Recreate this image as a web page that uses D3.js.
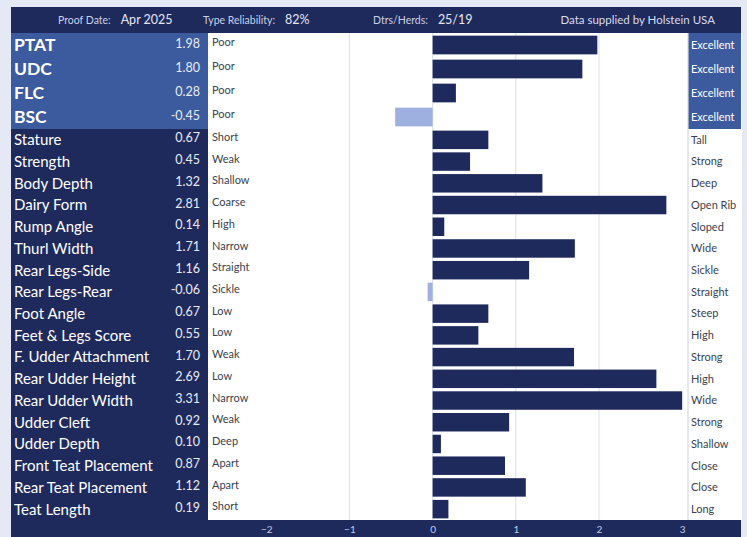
<!DOCTYPE html>
<html>
<head>
<meta charset="utf-8">
<script src="https://cdn.jsdelivr.net/npm/d3@7"></script>
<style>
  body { margin: 0; background: #e5e8f5; font-family: Lato, "Open Sans", sans-serif; }
  svg { display: block; }
</style>
</head>
<body>
<svg width="747" height="537"></svg>
<script>
// Index traits (top block) and linear type traits (bottom block)
const indexTraits = ['PTAT', 'UDC', 'FLC', 'BSC'];
const indexValues = [1.98, 1.80, 0.28, -0.45];
const indexLow = ['Poor', 'Poor', 'Poor', 'Poor'];
const indexHigh = ['Excellent', 'Excellent', 'Excellent', 'Excellent'];

const typeTraits = ['Stature', 'Strength', 'Body Depth', 'Dairy Form', 'Rump Angle', 'Thurl Width',
  'Rear Legs-Side', 'Rear Legs-Rear', 'Foot Angle', 'Feet & Legs Score', 'F. Udder Attachment',
  'Rear Udder Height', 'Rear Udder Width', 'Udder Cleft', 'Udder Depth', 'Front Teat Placement',
  'Rear Teat Placement', 'Teat Length'];
const typeValues = [0.67, 0.45, 1.32, 2.81, 0.14, 1.71, 1.16, -0.06, 0.67, 0.55, 1.70,
  2.69, 3.31, 0.92, 0.10, 0.87, 1.12, 0.19];
const typeLow = ['Short', 'Weak', 'Shallow', 'Coarse', 'High', 'Narrow', 'Straight', 'Sickle', 'Low',
  'Low', 'Weak', 'Low', 'Narrow', 'Weak', 'Deep', 'Apart', 'Apart', 'Short'];
const typeHigh = ['Tall', 'Strong', 'Deep', 'Open Rib', 'Sloped', 'Wide', 'Sickle', 'Straight', 'Steep',
  'High', 'Strong', 'High', 'Wide', 'Strong', 'Shallow', 'Close', 'Close', 'Long'];

const axisTicks = [-2, -1, 0, 1, 2, 3];
const gridTicks = [-1, 0, 1, 2];
const header = [
  { label: 'Proof Date:', value: 'Apr 2025', x: 58 },
  { label: 'Type Reliability:', value: '82%', x: 203 },
  { label: 'Dtrs/Herds:', value: '25/19', x: 373 }
];

const navy = '#1f2a5c';
const blue = '#3c5b9e';
const lightBar = '#9db0df';

const svg = d3.select('svg');
const panel = { left: 11, right: 741, top: 7, bottom: 537 };
const labelRight = 208;   // end of the name/value panel
const plotRight = 688;    // start of the right-hand label column

const x = d3.scaleLinear().domain([-2.7, 3.07]).range([labelRight, plotRight]);
const xMax = 3;

const yTop = d3.scaleBand().domain(indexTraits).range([33, 129]).paddingInner(0.22).paddingOuter(0.11);
const yBottom = d3.scaleBand().domain(typeTraits).range([129, 520]).paddingInner(0.15).paddingOuter(0.075);

const topRows = indexTraits.map((t, i) => ({ name: t, value: indexValues[i], low: indexLow[i], high: indexHigh[i], y: yTop, top: true }));
const bottomRows = typeTraits.map((t, i) => ({ name: t, value: typeValues[i], low: typeLow[i], high: typeHigh[i], y: yBottom, top: false }));
const rows = topRows.concat(bottomRows);

// Frame pieces
svg.append('rect').attr('x', panel.left).attr('y', panel.top)
  .attr('width', panel.right - panel.left).attr('height', panel.bottom - panel.top).attr('fill', navy);
svg.append('rect').attr('x', labelRight).attr('y', 33)
  .attr('width', panel.right - labelRight + 1).attr('height', 520 - 33).attr('fill', '#ffffff');
svg.append('rect').attr('x', panel.left).attr('y', 33)
  .attr('width', labelRight - panel.left).attr('height', 129 - 33).attr('fill', blue);
svg.append('rect').attr('x', plotRight).attr('y', 33)
  .attr('width', panel.right - plotRight).attr('height', 129 - 33).attr('fill', blue);

// Gridlines
svg.selectAll('.grid').data(gridTicks).enter().append('line')
  .attr('class', 'grid')
  .attr('x1', d => x(d)).attr('x2', d => x(d))
  .attr('y1', 33).attr('y2', 520)
  .attr('stroke', '#dfe3ee').attr('stroke-width', 1.2);
svg.append('line').attr('x1', plotRight).attr('x2', plotRight).attr('y1', 33).attr('y2', 520)
  .attr('stroke', '#d5d9e6').attr('stroke-width', 1.2);

// Bars
svg.selectAll('.bar').data(rows).enter().append('rect')
  .attr('class', 'bar')
  .attr('x', d => x(Math.min(0, d.value)))
  .attr('y', d => d.y(d.name))
  .attr('width', d => Math.abs(x(Math.min(d.value, xMax)) - x(0)))
  .attr('height', d => d.y.bandwidth())
  .attr('fill', d => d.value < 0 ? lightBar : navy);

// Trait names and values
const rowText = svg.selectAll('.row').data(rows).enter().append('g')
  .attr('class', 'row')
  .attr('transform', d => `translate(0, ${d.y(d.name) + d.y.bandwidth() / 2})`);

rowText.append('text')
  .attr('x', 14).attr('dy', '0.36em')
  .style('font-size', d => d.top ? '17.5px' : '15px')
  .style('font-weight', d => d.top ? 700 : 400)
  .attr('fill', '#ffffff')
  .text(d => d.name);

rowText.append('text')
  .attr('x', 200).attr('dy', '0.2em')
  .attr('text-anchor', 'end')
  .style('font-size', '12.5px')
  .attr('fill', '#e8ecf6')
  .text(d => d.value.toFixed(2));

rowText.append('text')
  .attr('x', 212).attr('dy', '0.1em')
  .style('font-size', '11px')
  .attr('fill', '#3a3f4f')
  .text(d => d.low);

rowText.append('text')
  .attr('x', 691).attr('dy', '0.35em')
  .style('font-size', '11px')
  .attr('fill', d => d.top ? '#ffffff' : '#3a3f4f')
  .text(d => d.high);

// Header
const head = svg.selectAll('.head').data(header).enter().append('g').attr('class', 'head');
head.append('text')
  .attr('x', d => d.x).attr('y', 24)
  .style('font-size', '10.5px').attr('fill', '#c9d0e8')
  .text(d => d.label);
head.append('text')
  .attr('x', function (d) { return d.x + this.parentNode.firstChild.getComputedTextLength() + 10; })
  .attr('y', 24)
  .style('font-size', '12.5px').attr('fill', '#e3e7f4')
  .text(d => d.value);
svg.append('text')
  .attr('x', 715).attr('y', 24).attr('text-anchor', 'end')
  .style('font-size', '11.5px').attr('fill', '#d6dcf0')
  .text('Data supplied by Holstein USA');

// Bottom axis
const axis = svg.append('g')
  .attr('transform', 'translate(0, 520)')
  .call(d3.axisBottom(x).tickValues(axisTicks).tickSize(0).tickPadding(6).tickFormat(d3.format('d')));
axis.select('.domain').remove();
axis.selectAll('text')
  .style('font-size', '10px')
  .style('font-family', 'Lato, sans-serif')
  .attr('fill', '#c3cbe6');
</script>
</body>
</html>
